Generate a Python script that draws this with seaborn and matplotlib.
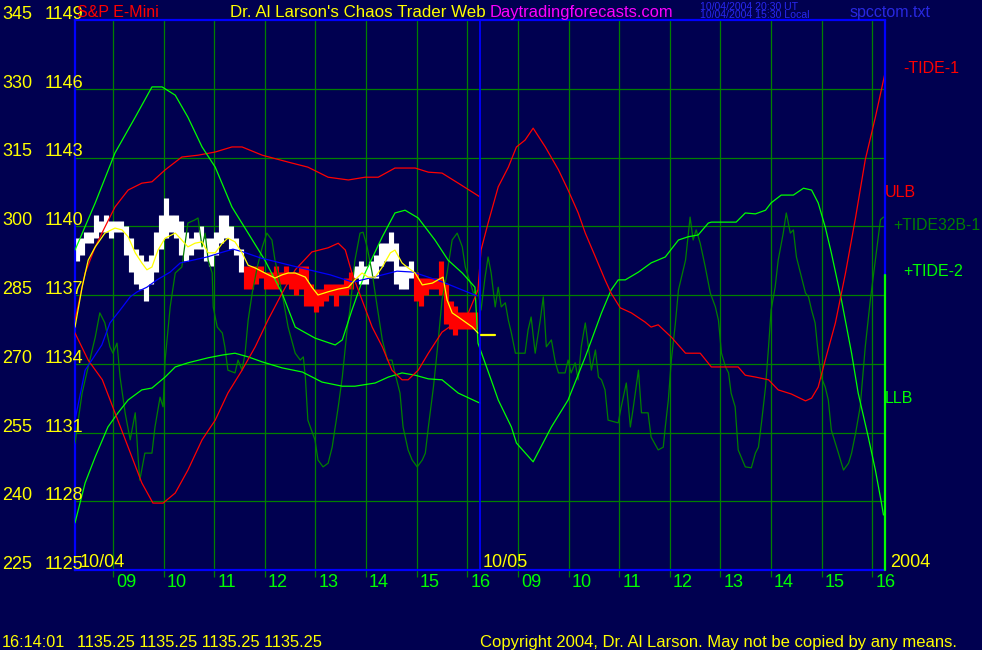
import numpy as np
import pandas as pd
import matplotlib
matplotlib.use("Agg")
import matplotlib.pyplot as plt
import seaborn as sns

sns.set_theme(style="dark")
plt.rcParams['font.family'] = ['Liberation Sans', 'DejaVu Sans']

# --- data: x in session hours (day 1 = 0..8, day 2 = 8..16), y on the left tide scale ---
levels = [345, 330, 315, 300, 285, 270, 255, 240, 225]
level_prices = [1149, 1146, 1143, 1140, 1137, 1134, 1131, 1128, 1125]
hour_labels = ["09", "10", "11", "12", "13", "14", "15", "16"]
hour_clock = [9, 10, 11, 12, 13, 14, 15, 16]
day_labels = ["10/04", "10/05"]

# -TIDE-1 (red)
tide1_x = [0, 0.26, 0.54, 0.79, 1.05, 1.32, 1.54, 1.74, 1.98, 2.23,
           2.51, 2.77, 3.02, 3.30, 3.56, 3.81, 4.09, 4.35, 4.68, 5.00,
           5.20, 5.34, 5.47, 5.67, 5.87, 6.07, 6.26, 6.46, 6.58, 6.78,
           6.98, 7.25, 7.51, 7.77, 7.96, 8.02, 8.16, 8.36, 8.56, 8.72,
           8.89, 9.05, 9.29, 9.55, 9.74, 9.94, 10.08, 10.28, 10.47, 10.59,
           10.77, 10.99, 11.26, 11.38, 11.52, 11.78, 12.06, 12.35, 12.57, 13.10,
           13.24, 13.44, 13.70, 13.89, 14.15, 14.43, 14.55, 14.68, 14.82, 15.02,
           15.22, 15.42, 15.61, 15.81, 16.0]
tide1_y = [276.7, 270.8, 266.5, 259.3, 251.8, 244.0, 239.6, 239.6, 241.8, 246.8,
           253.4, 257.7, 263.6, 268.6, 273.7, 279.5, 285.4, 290.5, 294.4, 295.3,
           296.3, 294.8, 289.8, 283.9, 278.0, 273.7, 268.6, 266.5, 266.5, 268.6,
           272.3, 276.9, 278.9, 281.1, 286.1, 294.8, 300.7, 308.6, 312.9, 317.3,
           318.8, 321.4, 317.3, 312.3, 307.9, 302.9, 298.5, 293.3, 288.3, 285.4,
           282.2, 281.1, 279.1, 278.0, 278.5, 275.8, 272.3, 272.3, 269.3, 269.3,
           267.5, 267.1, 266.5, 264.3, 263.4, 261.9, 262.5, 264.9, 270.8, 278.9,
           289.8, 302.0, 314.5, 323.8, 333.4]

# +TIDE-2 (bright green)
tide2_x = [0, 0.40, 0.79, 1.19, 1.52, 1.72, 1.98, 2.23, 2.51, 2.77,
           3.10, 3.42, 3.75, 4.09, 4.35, 4.74, 5.14, 5.28, 5.47, 5.73,
           6.07, 6.32, 6.52, 6.78, 7.11, 7.37, 7.65, 7.90, 7.96, 8.22,
           8.36, 8.62, 8.72, 9.05, 9.41, 9.74, 10.08, 10.40, 10.59, 10.73,
           10.87, 11.13, 11.38, 11.66, 11.92, 12.11, 12.31, 12.51, 12.57, 13.06,
           13.24, 13.44, 13.64, 13.75, 13.95, 14.19, 14.39, 14.55, 14.68, 14.82,
           14.94, 15.14, 15.34, 15.47, 15.67, 15.81, 15.93, 15.97]
tide2_y = [294.8, 305.1, 316.0, 323.8, 330.4, 330.4, 328.6, 323.8, 317.3, 312.9,
           304.2, 298.5, 292.6, 285.4, 278.0, 275.6, 274.1, 275.2, 281.7, 289.8,
           297.7, 302.9, 303.5, 301.8, 297.0, 292.6, 289.8, 286.7, 274.5, 266.5,
           262.1, 256.2, 252.7, 248.6, 256.2, 262.1, 271.5, 281.1, 286.1, 288.3,
           288.3, 290.0, 292.0, 293.3, 297.0, 297.7, 298.1, 300.7, 300.9, 300.9,
           302.9, 302.7, 303.5, 305.1, 306.8, 306.8, 308.3, 307.9, 305.1, 299.8,
           294.2, 283.9, 272.3, 263.6, 254.0, 246.8, 239.6, 237.0]

# +TIDE32B-1 (dark green)
tide32_x = [0, 0.14, 0.26, 0.40, 0.49, 0.59, 0.69, 0.75, 0.83, 0.89,
            0.99, 1.09, 1.19, 1.25, 1.28, 1.38, 1.52, 1.58, 1.68, 1.74,
            1.78, 1.88, 1.98, 2.11, 2.23, 2.37, 2.43, 2.51, 2.57, 2.63,
            2.71, 2.73, 2.81, 2.91, 2.96, 3.02, 3.16, 3.22, 3.30, 3.36,
            3.42, 3.50, 3.60, 3.70, 3.79, 3.89, 3.95, 4.09, 4.21, 4.35,
            4.45, 4.51, 4.55, 4.60, 4.74, 4.80, 4.90, 5.00, 5.08, 5.20,
            5.28, 5.38, 5.43, 5.53, 5.63, 5.69, 5.77, 5.87, 5.97, 6.07,
            6.17, 6.26, 6.32, 6.42, 6.48, 6.58, 6.66, 6.76, 6.86, 6.92,
            6.98, 7.08, 7.15, 7.25, 7.35, 7.45, 7.55, 7.65, 7.71, 7.81,
            7.87, 7.96, 8.02, 8.10, 8.16, 8.22, 8.30, 8.36, 8.42, 8.50,
            8.56, 8.62, 8.70, 8.89, 8.95, 9.01, 9.09, 9.19, 9.25, 9.31,
            9.41, 9.49, 9.55, 9.68, 9.74, 9.80, 9.88, 9.94, 10.00, 10.08,
            10.14, 10.20, 10.28, 10.34, 10.40, 10.47, 10.53, 10.73, 10.79, 10.89,
            10.97, 11.03, 11.13, 11.19, 11.32, 11.38, 11.52, 11.62, 11.66, 11.72,
            11.78, 11.86, 11.92, 12.06, 12.15, 12.21, 12.27, 12.35, 12.45, 12.55,
            12.65, 12.71, 12.77, 12.85, 12.91, 12.96, 13.04, 13.10, 13.24, 13.36,
            13.44, 13.50, 13.56, 13.64, 13.70, 13.75, 13.83, 13.89, 13.99, 14.05,
            14.13, 14.19, 14.25, 14.35, 14.43, 14.49, 14.55, 14.62, 14.68, 14.74,
            14.82, 14.88, 14.94, 15.08, 15.18, 15.28, 15.34, 15.42, 15.51, 15.61,
            15.71, 15.81, 15.91, 15.97]
tide32_y = [252.7, 263.6, 269.3, 275.8, 281.1, 278.9, 273.7, 272.3, 274.5, 267.1,
            259.3, 253.4, 259.3, 249.0, 244.6, 250.5, 250.5, 256.2, 262.7, 260.6,
            270.8, 282.4, 289.8, 291.1, 300.7, 301.4, 301.8, 295.5, 298.5, 292.6,
            289.8, 282.4, 278.0, 276.7, 273.7, 268.6, 268.0, 270.8, 268.6, 272.3,
            279.5, 285.4, 291.1, 295.5, 298.5, 297.0, 292.6, 285.4, 278.0, 272.3,
            270.8, 271.5, 267.1, 257.7, 253.4, 249.0, 247.5, 248.3, 251.8, 260.6,
            267.1, 278.0, 281.7, 292.6, 298.5, 298.7, 295.5, 289.8, 282.4, 275.2,
            270.8, 270.8, 268.0, 263.6, 256.2, 251.2, 249.0, 247.5, 249.0, 250.5,
            256.2, 264.9, 272.3, 283.9, 289.8, 297.0, 298.5, 295.5, 291.1, 287.6,
            285.4, 286.1, 281.7, 288.9, 293.3, 289.8, 282.4, 286.7, 282.4, 283.3,
            279.5, 276.7, 272.3, 272.3, 277.4, 280.2, 272.3, 279.5, 284.6, 273.7,
            275.2, 270.2, 268.0, 268.0, 270.8, 268.0, 270.2, 266.5, 273.7, 278.9,
            273.7, 268.6, 273.0, 267.1, 266.5, 264.3, 257.7, 257.1, 260.6, 265.8,
            256.2, 260.6, 268.6, 259.3, 259.3, 254.0, 251.2, 251.8, 256.2, 262.1,
            270.8, 278.9, 286.1, 292.6, 302.0, 297.0, 299.2, 296.3, 291.1, 285.4,
            282.4, 279.5, 272.3, 269.3, 268.0, 263.6, 260.6, 251.2, 247.5, 247.3,
            250.5, 251.8, 257.1, 264.9, 273.7, 281.7, 286.7, 292.6, 298.5, 302.9,
            298.5, 299.2, 293.3, 288.9, 285.4, 284.6, 281.7, 278.9, 272.3, 267.1,
            264.9, 262.1, 255.5, 250.5, 246.8, 248.3, 250.5, 254.9, 260.6, 273.7,
            283.9, 292.6, 301.4, 302.0]

# ULB / LLB bands (day 1 only)
ulb_x = [0, 0.20, 0.40, 0.59, 0.79, 1.05, 1.32, 1.52, 1.78, 2.11,
         2.43, 2.77, 3.10, 3.30, 3.70, 4.21, 4.60, 5.00, 5.40, 5.73,
         5.99, 6.32, 6.72, 6.98, 7.25, 7.57, 8.00]
ulb_y = [279.5, 289.8, 295.5, 299.8, 304.2, 307.9, 309.4, 309.7, 312.3, 315.1,
         315.5, 316.2, 317.3, 317.3, 315.5, 314.0, 312.9, 310.7, 310.1, 310.7,
         310.7, 312.7, 312.7, 311.8, 311.6, 309.4, 306.4]
llb_x = [0, 0.20, 0.40, 0.65, 0.85, 1.05, 1.32, 1.52, 1.78, 1.98,
         2.23, 2.63, 2.91, 3.16, 3.42, 3.70, 4.09, 4.49, 4.88, 5.28,
         5.53, 5.93, 6.19, 6.46, 6.72, 6.98, 7.25, 7.57, 8.00]
llb_y = [235.3, 244.0, 249.7, 256.2, 259.3, 262.1, 264.3, 264.7, 267.1, 269.3,
         270.2, 271.3, 271.9, 272.3, 271.5, 270.4, 269.1, 268.2, 266.0, 265.1,
         265.1, 265.8, 267.1, 268.0, 267.5, 266.7, 266.5, 263.6, 261.4]

# moving averages of price (day 1)
ma_blue_x = [0, 0.20, 0.53, 0.69, 0.89, 1.09, 1.23, 1.42, 1.62, 1.88,
             2.08, 2.33, 2.61, 2.87, 3.12, 3.32, 3.66, 3.99, 4.39, 5.04,
             5.49, 5.97, 6.36, 6.68, 7.27, 7.94]
ma_blue_y = [257.7, 268.6, 274.1, 278.9, 281.7, 284.6, 285.7, 286.7, 288.3, 290.0,
             292.0, 292.6, 293.3, 294.2, 295.0, 294.4, 293.1, 292.2, 291.1, 289.4,
             287.8, 289.1, 290.2, 290.0, 287.8, 284.8]
ma_yel_x = [0, 0.14, 0.26, 0.40, 0.59, 0.79, 0.93, 1.05, 1.19, 1.32,
            1.42, 1.52, 1.64, 1.78, 1.98, 2.11, 2.23, 2.37, 2.51, 2.63,
            2.77, 2.91, 3.02, 3.16, 3.30, 3.42, 3.56, 3.75, 3.95, 4.09,
            4.21, 4.35, 4.55, 4.68, 4.80, 5.00, 5.20, 5.40, 5.53, 5.67,
            5.79, 5.93, 6.07, 6.23, 6.32, 6.46, 6.58, 6.72, 6.86, 7.06,
            7.17, 7.27, 7.35, 7.45, 7.57, 7.71, 7.85, 7.96]
ma_yel_y = [278.0, 286.7, 292.6, 295.5, 298.5, 299.6, 299.2, 297.7, 294.2, 292.0,
            290.5, 291.1, 294.8, 297.4, 298.5, 297.0, 295.5, 296.3, 296.6, 294.2,
            294.2, 296.3, 297.4, 296.6, 294.2, 291.5, 290.9, 289.8, 288.7, 289.4,
            289.8, 289.8, 288.9, 286.7, 285.0, 285.7, 286.3, 286.7, 288.3, 289.8,
            288.9, 288.9, 291.1, 294.2, 294.8, 292.0, 290.9, 289.8, 287.2, 287.6,
            288.3, 288.9, 283.9, 281.1, 280.2, 279.1, 278.0, 276.7]

# S&P E-Mini bars, day 1 (price units)
bar_high = [1139.50, 1139.50, 1139.75, 1139.75, 1140.50, 1140.25, 1140.50, 1140.25, 1140.25, 1140.25,
            1140.00, 1139.50, 1139.00, 1138.75, 1138.50, 1138.75, 1139.75, 1140.50, 1141.25, 1140.50,
            1140.50, 1140.25, 1139.75, 1139.50, 1139.75, 1140.00, 1139.50, 1139.50, 1139.75, 1140.50,
            1140.50, 1140.00, 1139.50, 1139.00, 1138.25, 1138.25, 1138.25, 1138.25, 1138.00, 1138.00,
            1138.25, 1138.00, 1138.25, 1138.00, 1138.00, 1138.25, 1138.25, 1137.50, 1137.25, 1137.25,
            1137.50, 1137.50, 1137.50, 1137.50, 1137.75, 1138.00, 1138.25, 1138.50, 1138.25, 1138.50,
            1138.75, 1139.25, 1139.25, 1139.75, 1139.25, 1138.25, 1138.25, 1138.50, 1138.00, 1137.75,
            1137.75, 1137.75, 1137.75, 1138.50, 1137.50, 1136.75, 1136.50, 1136.25, 1136.25, 1136.25,
            1136.25]
bar_low = [1138.50, 1138.75, 1139.25, 1139.25, 1139.50, 1139.75, 1139.75, 1139.50, 1139.75, 1139.75,
           1138.75, 1138.00, 1137.50, 1137.25, 1136.75, 1137.50, 1138.00, 1139.00, 1139.50, 1139.75,
           1139.50, 1138.75, 1138.50, 1138.75, 1139.00, 1139.00, 1138.50, 1138.25, 1138.75, 1139.25,
           1139.50, 1139.00, 1138.75, 1138.00, 1137.25, 1137.25, 1137.50, 1137.75, 1137.25, 1137.25,
           1137.25, 1137.50, 1137.50, 1137.25, 1137.00, 1137.25, 1136.50, 1136.50, 1136.25, 1136.50,
           1136.75, 1137.00, 1136.50, 1137.00, 1137.00, 1137.25, 1137.75, 1137.50, 1137.50, 1137.75,
           1137.75, 1138.25, 1138.50, 1138.50, 1137.50, 1137.25, 1137.25, 1137.75, 1136.75, 1136.50,
           1137.00, 1137.25, 1137.25, 1137.00, 1135.75, 1135.50, 1135.25, 1135.50, 1135.50, 1135.50,
           1135.50]
bar_side = ["W"] * 34 + ["R"] * 22 + ["W"] * 12 + ["R"] * 13
last_price = 1135.25

# --- colours ---
NAVY = "#000050"
GRID = "#008000"
BLUE = "#0000FF"
RED = "#FF0000"
LIME = "#00FF00"
DKGREEN = "#008000"
YELLOW = "#FFFF00"
W, H = 982, 650


def to_tide(p):
    # price scale 1125..1149 sits on the tide scale 225..345
    return 225 + 5 * (np.asarray(p) - 1125)


def ftxt(x, y, s, color, size, **kw):
    fig.text(x / W, 1 - y / H, s, color=color, fontsize=size,
             ha="left", va="baseline", **kw)


fig = plt.figure(figsize=(W / 100, H / 100), dpi=100, facecolor=NAVY)
ax = fig.add_axes([75 / W, 80 / H, 810 / W, 550 / H], facecolor=NAVY)
ax.set_xlim(0, 16)
ax.set_ylim(225, 345)

# grid
tick_pos = [h - 8.25 for h in hour_clock] + [8 + h - 8.25 for h in hour_clock]
ax.set_xticks(tick_pos)
ax.set_yticks(levels[1:-1])
ax.grid(True, color=GRID, lw=0.9)
ax.tick_params(axis="x", bottom=True, length=5, width=0.9, color=GRID,
               direction="out", labelbottom=False)
ax.tick_params(axis="y", left=False, labelleft=False)
ax.set_xlabel("")
ax.set_ylabel("")
for s in ax.spines.values():
    s.set_color(BLUE)
    s.set_linewidth(1.6)
ax.spines["right"].set_visible(False)
ax.plot([16, 16], [345, 289.4], color=BLUE, lw=1.6, clip_on=False, zorder=6)
ax.plot([16, 16], [289.4, 225], color=LIME, lw=1.6, clip_on=False, zorder=6)
ax.axvline(8, color=BLUE, lw=1.3, zorder=5)

# price bars
bars = pd.DataFrame({"x": np.linspace(0.03, 7.91, len(bar_high)),
                     "hi": to_tide(bar_high), "lo": to_tide(bar_low),
                     "side": bar_side})
bar_cols = bars["side"].map({"W": "#FFFFFF", "R": RED})
ax.vlines(bars["x"], bars["lo"], bars["hi"], colors=bar_cols, lw=3.7, zorder=2)

# tide and band lines
lines = [
    (tide32_x, tide32_y, DKGREEN, 3),
    (llb_x, llb_y, LIME, 3),
    (ulb_x, ulb_y, RED, 3),
    (tide2_x, tide2_y, LIME, 3),
    (tide1_x, tide1_y, RED, 3),
    (ma_blue_x, ma_blue_y, BLUE, 4),
    (ma_yel_x, ma_yel_y, YELLOW, 4),
]
for xs, ys, col, z in lines:
    sns.lineplot(x=xs, y=ys, color=col, lw=0.9, ax=ax, estimator=None,
                 sort=False, zorder=z)

# current price marker
ax.plot([8.02, 8.30], [to_tide(last_price)] * 2, color=YELLOW, lw=1.6, zorder=5)

# left scale labels
for v, p in zip(levels, level_prices):
    py = 20 + (345 - v) / 120 * 550
    ftxt(2, py - 1, str(v), YELLOW, 13)
    ftxt(45, py - 1, str(p), YELLOW, 13)

# header
ftxt(77, 17, "S&P E-Mini", RED, 11.5)
ftxt(230, 17, "Dr. Al Larson's Chaos Trader Web", YELLOW, 12.2)
ftxt(490, 17, "Daytradingforecasts.com", "#FF00FF", 11.9)
ftxt(700, 9.5, "10/04/2004 20:30 UT", "#2828F0", 7.6)
ftxt(700, 18, "10/04/2004 15:30 Local", "#2828F0", 7.6)
ftxt(850, 17, "spcctom.txt", "#2828E0", 11.5)

# hour labels and dates
for t, lab in zip(tick_pos, hour_labels * 2):
    ftxt(75 + t * 810 / 16 + 3, 587, lab, LIME, 13)
ftxt(80, 567, day_labels[0], YELLOW, 13)
ftxt(483, 567, day_labels[1], YELLOW, 13)
ftxt(890, 567, "2004", YELLOW, 13)

# right-hand line labels
ftxt(903, 73, "-TIDE-1", RED, 11.5)
ftxt(885, 197, "ULB", RED, 11.5)
ftxt(893, 230, "+TIDE32B-1", DKGREEN, 11.3)
ftxt(903, 276, "+TIDE-2", LIME, 11.5)
ftxt(885, 403, "LLB", LIME, 11.5)

# footer
ftxt(2, 647, "16:14:01", YELLOW, 11.7)
ftxt(77, 647, "1135.25 1135.25 1135.25 1135.25", YELLOW, 11.8)
ftxt(480, 647, "Copyright 2004, Dr. Al Larson. May not be copied by any means.", YELLOW, 12)

fig.savefig("out.png", dpi=100, facecolor=NAVY)
